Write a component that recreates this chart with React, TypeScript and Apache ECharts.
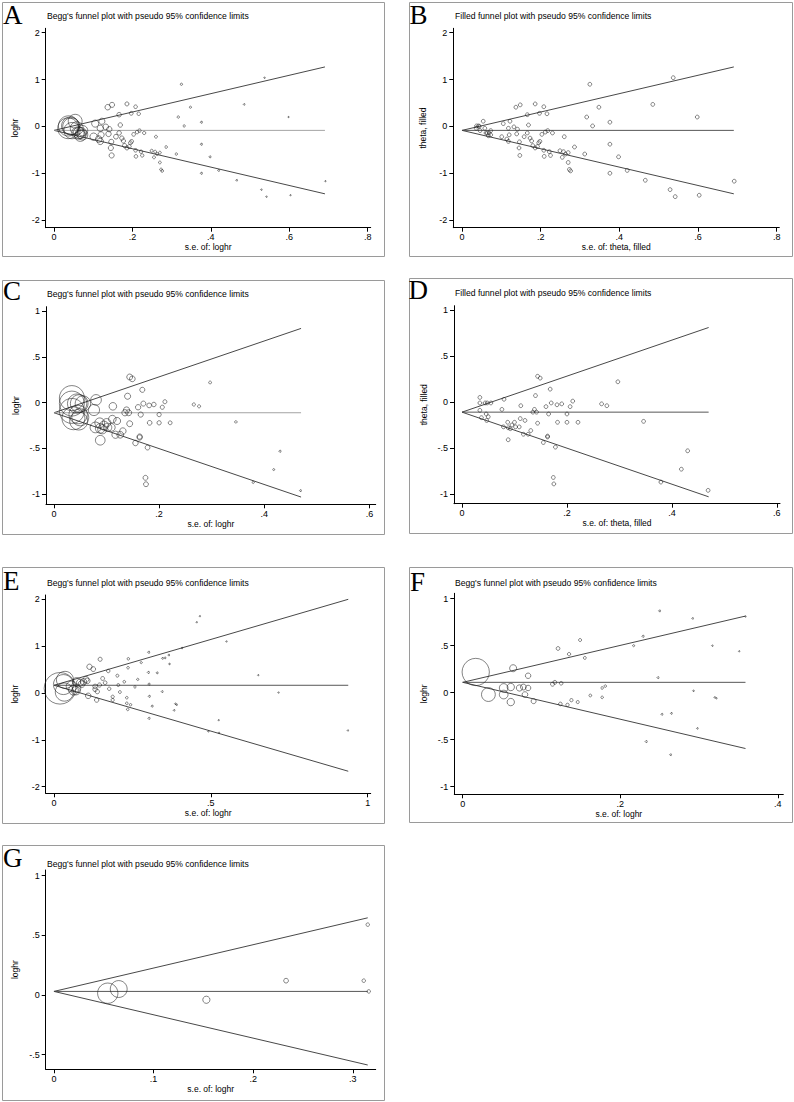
import React, { useEffect, useRef } from "react";
import * as echarts from "echarts";

// ---------- Panel A / B : loghr vs s.e. of loghr ----------
const abSe = [0.037,0.044,0.036,0.042,0.046,0.054,0.058,0.061,0.064,0.069,0.073,0.073,0.067,0.101,0.105,0.114,0.118,0.122,0.120,0.118,0.132,0.137,0.139,0.141,0.146,0.145,0.148,0.147,0.158,0.166,0.166,0.169,0.173,0.177,0.180,0.186,0.186,0.192,0.195,0.197,0.198,0.203,0.208,0.208,0.209,0.212,0.216,0.218,0.222,0.225,0.230,0.249,0.255,0.260,0.258,0.263,0.270,0.270,0.273,0.276,0.286,0.312,0.317,0.325,0.332,0.348,0.376,0.376,0.376,0.398,0.420,0.466,0.485,0.529,0.537,0.542,0.598,0.603,0.692];
const abLogHr = [0.01,-0.00,-0.04,0.01,-0.09,0.11,-0.04,-0.14,-0.14,-0.14,-0.09,-0.18,-0.20,-0.22,0.06,-0.27,-0.04,0.11,-0.18,-0.32,-0.01,0.41,-0.16,-0.06,-0.33,-0.46,0.46,-0.62,-0.22,0.25,-0.14,0.03,-0.25,-0.31,-0.41,0.48,-0.46,-0.43,-0.35,0.28,-0.32,-0.17,0.42,-0.51,-0.64,-0.12,0.27,-0.09,-0.54,-0.62,-0.14,-0.52,-0.66,-0.22,-0.54,-0.59,-0.56,-0.77,-0.92,-0.95,-0.44,-0.59,0.20,0.90,0.01,0.41,0.09,-0.38,-1.0,-0.65,-0.94,-1.15,0.47,-1.35,1.04,-1.50,0.20,-1.47,-1.17];
const abFunnelSe = [0, 0.691];
const abFunnelMid = [-0.085, -0.085];
const abFunnelUpper = [-0.085, 1.27];
const abFunnelLower = [-0.085, -1.44];
const abXTicks = [0, 0.2, 0.4, 0.6, 0.8];
const abYTicks = [-2, -1, 0, 1, 2];

// ---------- Panel C / D ----------
const cdSe = [0.034,0.034,0.034,0.037,0.044,0.048,0.046,0.047,0.050,0.055,0.076,0.080,0.079,0.087,0.088,0.088,0.092,0.095,0.100,0.102,0.109,0.111,0.112,0.117,0.120,0.126,0.131,0.135,0.138,0.140,0.142,0.144,0.144,0.149,0.155,0.160,0.163,0.163,0.165,0.168,0.170,0.174,0.175,0.178,0.181,0.182,0.190,0.200,0.200,0.206,0.211,0.221,0.266,0.276,0.297,0.346,0.379,0.418,0.430,0.469];
const cdLogHr = [0.05,-0.01,-0.09,-0.17,-0.01,-0.01,-0.13,-0.20,-0.16,-0.01,-0.08,0.03,-0.27,-0.22,-0.28,-0.41,-0.29,-0.25,-0.22,-0.27,-0.27,-0.18,-0.04,-0.35,-0.20,-0.35,-0.31,-0.11,-0.08,0.07,-0.11,-0.23,0.28,0.26,-0.44,-0.05,-0.37,-0.38,-0.13,0.14,-0.01,-0.82,-0.89,-0.49,-0.03,-0.22,-0.02,-0.13,-0.22,-0.05,0.01,-0.22,-0.02,-0.04,0.22,-0.21,-0.87,-0.73,-0.53,-0.96];
const cdFunnelSe = [0, 0.470];
const cdFunnelMid = [-0.11, -0.11];
const cdFunnelUpper = [-0.11, 0.81];
const cdFunnelLower = [-0.11, -1.03];
const cdXTicks = [0, 0.2, 0.4, 0.6];
const cdYTicks = [-1, -0.5, 0, 0.5, 1];

// ---------- Panel E ----------
const eSe = [0.019,0.035,0.033,0.030,0.056,0.072,0.072,0.083,0.088,0.094,0.102,0.106,0.062,0.070,0.113,0.125,0.109,0.131,0.131,0.136,0.138,0.145,0.147,0.155,0.163,0.173,0.176,0.187,0.187,0.202,0.205,0.210,0.224,0.232,0.232,0.235,0.237,0.236,0.244,0.258,0.267,0.278,0.301,0.302,0.303,0.304,0.303,0.313,0.329,0.345,0.346,0.354,0.366,0.368,0.383,0.387,0.391,0.408,0.455,0.465,0.492,0.525,0.526,0.550,0.651,0.716,0.937];
const eLogHr = [0.10,0.28,0.02,0.18,0.14,0.10,0.24,0.22,0.19,0.24,0.29,0.26,0.06,0.05,0.56,0.51,-0.06,0.14,0.08,-0.15,0.03,0.17,0.72,0.31,0.22,0.47,0.09,-0.08,-0.15,0.37,0.17,0.02,0.24,-0.10,-0.22,-0.35,0.73,0.54,-0.25,0.13,0.29,0.65,0.44,0.87,0.19,-0.07,-0.54,-0.28,0.43,0.03,0.74,0.75,0.81,0.62,-0.37,-0.23,-0.25,0.96,1.51,1.64,-0.82,-0.58,-0.85,1.10,0.38,0.01,-0.80];
const eFunnelSe = [0, 0.938];
const eFunnelMid = [0.165, 0.165];
const eFunnelUpper = [0.165, 2.0];
const eFunnelLower = [0.165, -1.67];
const eXTicks = [0, 0.5, 1];
const eYTicks = [-2, -1, 0, 1, 2];

// ---------- Panel F ----------
const fSe = [0.0165,0.0326,0.052,0.052,0.061,0.061,0.064,0.072,0.077,0.079,0.083,0.083,0.090,0.114,0.117,0.121,0.125,0.124,0.133,0.135,0.138,0.146,0.149,0.155,0.162,0.177,0.177,0.181,0.217,0.229,0.233,0.248,0.250,0.253,0.264,0.265,0.292,0.293,0.298,0.317,0.320,0.322,0.351,0.359];
const fLogHr = [0.22,-0.02,0.05,-0.02,0.06,-0.10,0.26,0.05,0.06,-0.02,0.18,0.05,-0.09,0.09,0.11,0.47,0.10,-0.12,-0.13,0.41,-0.08,-0.10,0.56,0.37,-0.03,0.05,-0.05,0.07,0.50,0.60,-0.52,0.16,0.87,-0.23,-0.66,-0.22,0.79,0.02,-0.38,0.50,-0.05,-0.06,0.44,0.81];
const fFunnelSe = [0, 0.359];
const fFunnelMid = [0.11, 0.11];
const fFunnelUpper = [0.11, 0.815];
const fFunnelLower = [0.11, -0.594];
const fXTicks = [0, 0.2, 0.4];
const fYTicks = [-1, -0.5, 0, 0.5, 1];

// ---------- Panel G ----------
const gSe = [0.054,0.065,0.153,0.233,0.311,0.315,0.316];
const gLogHr = [0.015,0.05,-0.04,0.12,0.12,0.59,0.03];
const gFunnelSe = [0, 0.315];
const gFunnelMid = [0.03, 0.03];
const gFunnelUpper = [0.03, 0.647];
const gFunnelLower = [0.03, -0.587];
const gXTicks = [0, 0.1, 0.2, 0.3];
const gYTicks = [-0.5, 0, 0.5, 1];

const BEGG = "Begg's funnel plot with pseudo 95% confidence limits";
const FILLED = "Filled funnel plot with pseudo 95% confidence limits";

const SANS = "'Liberation Sans', Arial, sans-serif";
const SERIF = "'Liberation Serif', 'Times New Roman', serif";

const fmtTick = (v: any) => {
  const n = Math.round(Number(v) * 100) / 100;
  if (n === 0) return "0";
  return String(n).replace(/^(-?)0\./, "$1.");
};

type Panel = {
  letter: string;
  title: string;
  xName: string;
  yName: string;
  se: number[];
  y: number[];
  fSe: number[];
  fMid: number[];
  fUp: number[];
  fLo: number[];
  xTicks: number[];
  yTicks: number[];
  grid: number[]; // left, top, width, height
  xRange: number[];
  yRange: number[];
  frame: number[]; // x, y, w, h
  letterPos: number[];
  titlePos: number[];
  k: number; // 0 = uniform markers
  midColor: string;
};

const panels: Panel[] = [
  {
    letter: "A", title: BEGG, xName: "s.e. of: loghr", yName: "loghr",
    se: abSe, y: abLogHr, fSe: abFunnelSe, fMid: abFunnelMid, fUp: abFunnelUpper, fLo: abFunnelLower,
    xTicks: abXTicks, yTicks: abYTicks,
    grid: [45.7, 28.3, 325, 199.4], xRange: [-0.0212, 0.8077], yRange: [-2.163, 2.095],
    frame: [2, 2, 382, 254], letterPos: [3, 14.5], titlePos: [47, 15.7], k: 0.75, midColor: "#9a9a9a",
  },
  {
    letter: "B", title: FILLED, xName: "s.e. of: theta, filled", yName: "theta, filled",
    se: abSe, y: abLogHr, fSe: abFunnelSe, fMid: abFunnelMid, fUp: abFunnelUpper, fLo: abFunnelLower,
    xTicks: abXTicks, yTicks: abYTicks,
    grid: [453.3, 28.3, 326, 199.4], xRange: [-0.0221, 0.8066], yRange: [-2.163, 2.095],
    frame: [409, 2, 383, 254], letterPos: [409.5, 14.5], titlePos: [455, 15.7], k: 0, midColor: "#444",
  },
  {
    letter: "C", title: BEGG, xName: "s.e. of: loghr", yName: "loghr",
    se: cdSe, y: cdLogHr, fSe: cdFunnelSe, fMid: cdFunnelMid, fUp: cdFunnelUpper, fLo: cdFunnelLower,
    xTicks: cdXTicks, yTicks: cdYTicks,
    grid: [46, 306.7, 329.7, 197.6], xRange: [-0.0152, 0.612], yRange: [-1.109, 1.047],
    frame: [2, 280, 382, 254], letterPos: [3, 291], titlePos: [47, 294], k: 0.85, midColor: "#9a9a9a",
  },
  {
    letter: "D", title: FILLED, xName: "s.e. of: theta, filled", yName: "theta, filled",
    se: cdSe, y: cdLogHr, fSe: cdFunnelSe, fMid: cdFunnelMid, fUp: cdFunnelUpper, fLo: cdFunnelLower,
    xTicks: cdXTicks, yTicks: cdYTicks,
    grid: [454, 305.7, 326, 198], xRange: [-0.0153, 0.606], yRange: [-1.105, 1.047],
    frame: [409, 278, 383, 255], letterPos: [408.5, 290], titlePos: [455, 293.3], k: 0, midColor: "#444",
  },
  {
    letter: "E", title: BEGG, xName: "s.e. of: loghr", yName: "loghr",
    se: eSe, y: eLogHr, fSe: eFunnelSe, fMid: eFunnelMid, fUp: eFunnelUpper, fLo: eFunnelLower,
    xTicks: eXTicks, yTicks: eYTicks,
    grid: [45.7, 595, 325, 198.3], xRange: [-0.0265, 1.0096], yRange: [-2.141, 2.092],
    frame: [2, 567, 382, 256], letterPos: [3, 581], titlePos: [47, 582.7], k: 0.6, midColor: "#444",
  },
  {
    letter: "F", title: BEGG, xName: "s.e. of: loghr", yName: "loghr",
    se: fSe, y: fLogHr, fSe: fFunnelSe, fMid: fFunnelMid, fUp: fFunnelUpper, fLo: fFunnelLower,
    xTicks: fXTicks, yTicks: fYTicks,
    grid: [454.3, 593.3, 329, 201], xRange: [-0.0107, 0.407], yRange: [-1.081, 1.057],
    frame: [409, 567, 383, 255], letterPos: [410, 582], titlePos: [455, 582.7], k: 0.45, midColor: "#444",
  },
  {
    letter: "G", title: BEGG, xName: "s.e. of: loghr", yName: "loghr",
    se: gSe, y: gLogHr, fSe: gFunnelSe, fMid: gFunnelMid, fUp: gFunnelUpper, fLo: gFunnelLower,
    xTicks: gXTicks, yTicks: gYTicks,
    grid: [45.7, 870, 330, 199.3], xRange: [-0.0083, 0.323], yRange: [-0.623, 1.048],
    frame: [2, 845, 382, 255], letterPos: [3, 858], titlePos: [47, 864.3], k: 1.1, midColor: "#444",
  },
];

export default function App() {
  const ref = useRef<HTMLDivElement>(null);

  useEffect(() => {
    document.body.style.margin = "0";
    if (!ref.current) return;
    const chart = echarts.init(ref.current, undefined, { renderer: "svg", width: 794, height: 1102 });

    const grid: any[] = [];
    const xAxis: any[] = [];
    const yAxis: any[] = [];
    const series: any[] = [];
    const graphic: any[] = [];

    panels.forEach((p, i) => {
      grid.push({ left: p.grid[0], top: p.grid[1], width: p.grid[2], height: p.grid[3], containLabel: false });

      const common = {
        type: "value",
        gridIndex: i,
        nameLocation: "middle",
        nameTextStyle: { fontSize: 8.5, color: "#000", fontFamily: SANS },
        axisLine: { show: true, onZero: false, lineStyle: { color: "#000", width: 1 } },
        splitLine: { show: false },
      };

      xAxis.push({
        ...common,
        min: p.xRange[0],
        max: p.xRange[1],
        name: p.xName,
        nameGap: 13,
        axisTick: { show: true, length: 4, customValues: p.xTicks, lineStyle: { color: "#000" } },
        axisLabel: { customValues: p.xTicks, formatter: fmtTick, fontSize: 9, color: "#000", margin: 5, fontFamily: SANS },
      });
      yAxis.push({
        ...common,
        min: p.yRange[0],
        max: p.yRange[1],
        name: p.yName,
        nameGap: 26,
        axisTick: { show: true, length: 4, customValues: p.yTicks, lineStyle: { color: "#000" } },
        axisLabel: { customValues: p.yTicks, formatter: fmtTick, fontSize: 9, color: "#000", margin: 6, fontFamily: SANS },
      });

      const lineBase = {
        type: "line",
        xAxisIndex: i,
        yAxisIndex: i,
        symbol: "none",
        silent: true,
        z: 2,
      };
      series.push({ ...lineBase, data: p.fSe.map((s, j) => [s, p.fUp[j]]), lineStyle: { color: "#333", width: 0.9 } });
      series.push({ ...lineBase, data: p.fSe.map((s, j) => [s, p.fLo[j]]), lineStyle: { color: "#333", width: 0.9 } });
      series.push({ ...lineBase, data: p.fSe.map((s, j) => [s, p.fMid[j]]), lineStyle: { color: p.midColor, width: 0.9 } });

      const k = p.k;
      series.push({
        type: "scatter",
        xAxisIndex: i,
        yAxisIndex: i,
        data: p.se.map((s, j) => [s, p.y[j]]),
        symbol: "circle",
        symbolSize: k > 0 ? (v: number[]) => Math.max(1.3, k / v[0]) : 3.8,
        itemStyle: { color: "rgba(0,0,0,0)", borderColor: "#222", borderWidth: 0.7 },
        silent: true,
        z: 3,
      });

      graphic.push({
        type: "rect",
        shape: { x: p.frame[0] + 0.5, y: p.frame[1] + 0.5, width: p.frame[2], height: p.frame[3] },
        style: { fill: "none", stroke: "#9a9a9a", lineWidth: 1 },
        silent: true,
        z: 0,
      });
      graphic.push({
        type: "text",
        x: p.letterPos[0],
        y: p.letterPos[1],
        style: { text: p.letter, font: `27px ${SERIF}`, fill: "#000", textAlign: "left", textVerticalAlign: "middle" },
        silent: true,
      });
      graphic.push({
        type: "text",
        x: p.titlePos[0],
        y: p.titlePos[1],
        style: { text: p.title, font: `8.6px ${SANS}`, fill: "#000", textAlign: "left", textVerticalAlign: "middle" },
        silent: true,
      });
    });

    chart.setOption({
      animation: false,
      backgroundColor: "#fff",
      grid,
      xAxis,
      yAxis,
      series,
      graphic,
    });

    return () => chart.dispose();
  }, []);

  return <div ref={ref} style={{ position: "absolute", left: 0, top: 0, width: 794, height: 1102 }} />;
}
